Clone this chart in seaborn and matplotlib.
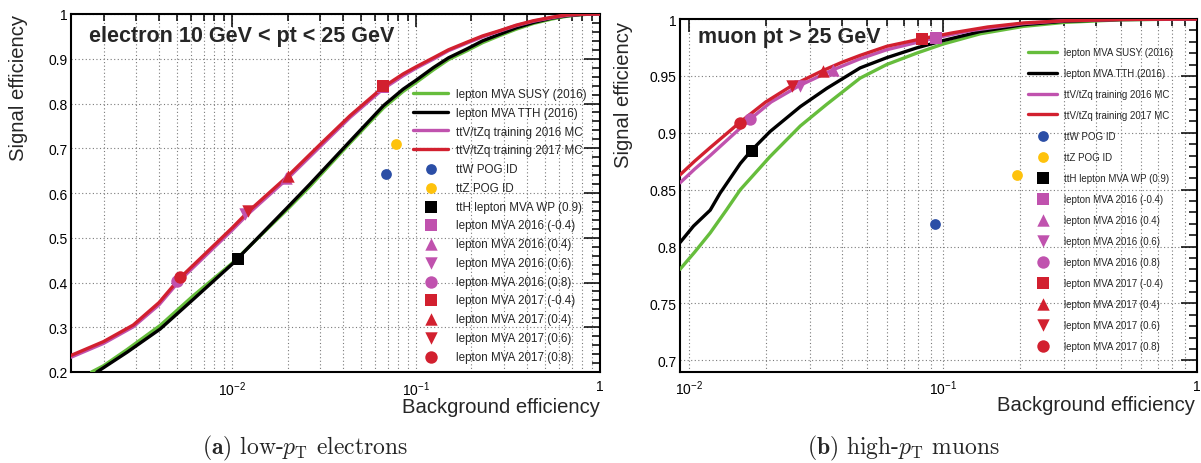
import numpy as np
import pandas as pd
import matplotlib
matplotlib.use("Agg")
import matplotlib.pyplot as plt
import seaborn as sns
from matplotlib.ticker import FixedLocator, FixedFormatter, NullFormatter

# ---------------- data: electrons (10 < pt < 25 GeV) ----------------
el_susy_x = [0.00172, 0.0020, 0.00268, 0.00406, 0.00617, 0.0100, 0.0198, 0.0265, 0.0438, 0.0664, 0.085, 0.10, 0.124, 0.15, 0.189, 0.23, 0.286, 0.35, 0.435, 0.55, 0.66, 0.8, 1.0]
el_susy_y = [0.200, 0.214, 0.250, 0.304, 0.371, 0.443, 0.562, 0.615, 0.712, 0.790, 0.827, 0.847, 0.875, 0.898, 0.918, 0.936, 0.952, 0.966, 0.979, 0.989, 0.995, 0.999, 1.0]
el_tth_x = [0.00184, 0.00268, 0.00406, 0.00617, 0.0100, 0.0198, 0.0265, 0.0438, 0.0664, 0.085, 0.10, 0.124, 0.15, 0.189, 0.23, 0.286, 0.35, 0.435, 0.55, 0.66, 0.8, 1.0]
el_tth_y = [0.200, 0.244, 0.296, 0.363, 0.441, 0.566, 0.620, 0.716, 0.795, 0.832, 0.852, 0.880, 0.902, 0.922, 0.940, 0.955, 0.969, 0.981, 0.991, 0.996, 0.999, 1.0]
el_2016_x = [0.00133, 0.0020, 0.0029, 0.0040, 0.0052, 0.0100, 0.0122, 0.0201, 0.0300, 0.0438, 0.055, 0.0664, 0.085, 0.10, 0.124, 0.15, 0.189, 0.23, 0.286, 0.35, 0.435, 0.55, 0.66, 0.8, 1.0]
el_2016_y = [0.233, 0.264, 0.301, 0.350, 0.405, 0.517, 0.553, 0.633, 0.703, 0.769, 0.804, 0.833, 0.862, 0.879, 0.899, 0.918, 0.935, 0.949, 0.962, 0.974, 0.984, 0.992, 0.997, 0.9995, 1.0]
el_2017_x = [0.00133, 0.0020, 0.0029, 0.0040, 0.0052, 0.0100, 0.0122, 0.0201, 0.0300, 0.0438, 0.055, 0.0664, 0.085, 0.10, 0.124, 0.15, 0.189, 0.23, 0.286, 0.35, 0.435, 0.55, 0.66, 0.8, 1.0]
el_2017_y = [0.237, 0.268, 0.305, 0.355, 0.410, 0.522, 0.558, 0.638, 0.708, 0.773, 0.808, 0.837, 0.866, 0.882, 0.902, 0.920, 0.937, 0.951, 0.963, 0.975, 0.985, 0.993, 0.998, 0.9995, 1.0]

el_ttw_pog = (0.0687, 0.643)
el_ttz_pog = (0.0778, 0.709)
el_tth_wp = (0.0108, 0.4525)
el_mva2016_x = [0.0660, 0.0197, 0.0118, 0.0050]   # WP -0.4, 0.4, 0.6, 0.8
el_mva2016_y = [0.836, 0.633, 0.553, 0.404]
el_mva2017_x = [0.0664, 0.0201, 0.0122, 0.0052]
el_mva2017_y = [0.840, 0.638, 0.560, 0.412]

# ---------------- data: muons (pt > 25 GeV) ----------------
mu_susy_x = [0.0092, 0.0105, 0.0121, 0.0140, 0.0159, 0.0208, 0.0274, 0.0348, 0.0471, 0.060, 0.0787, 0.10, 0.14, 0.207, 0.30, 0.5, 1.0]
mu_susy_y = [0.780, 0.795, 0.812, 0.832, 0.850, 0.879, 0.906, 0.925, 0.948, 0.960, 0.970, 0.978, 0.987, 0.9935, 0.997, 0.9993, 1.0]
mu_tth_x = [0.0092, 0.0104, 0.0121, 0.01324, 0.0159, 0.0175, 0.0208, 0.0274, 0.0348, 0.0471, 0.060, 0.0787, 0.10, 0.14, 0.207, 0.30, 0.5, 1.0]
mu_tth_y = [0.8035, 0.818, 0.832, 0.847, 0.873, 0.884, 0.901, 0.923, 0.939, 0.957, 0.966, 0.9746, 0.981, 0.989, 0.995, 0.998, 0.9995, 1.0]
mu_2016_x = [0.0092, 0.0105, 0.0121, 0.0145, 0.0174, 0.021, 0.0272, 0.0370, 0.0471, 0.060, 0.0938, 0.13, 0.207, 0.30, 0.5, 1.0]
mu_2016_y = [0.856, 0.868, 0.880, 0.896, 0.912, 0.927, 0.9415, 0.9555, 0.965, 0.973, 0.9835, 0.990, 0.996, 0.9985, 0.9996, 1.0]
mu_2017_x = [0.0092, 0.0105, 0.0121, 0.0140, 0.0158, 0.0200, 0.0254, 0.0336, 0.040, 0.0471, 0.060, 0.0826, 0.11, 0.15, 0.207, 0.30, 0.5, 1.0]
mu_2017_y = [0.863, 0.875, 0.887, 0.899, 0.909, 0.927, 0.9415, 0.9547, 0.962, 0.968, 0.976, 0.9827, 0.988, 0.993, 0.9965, 0.9985, 0.9996, 1.0]

mu_ttw_pog = (0.093, 0.8196)
mu_ttz_pog = (0.195, 0.8628)
mu_tth_wp = (0.0176, 0.8839)
mu_mva2016_x = [0.0938, 0.0370, 0.0272, 0.0174]
mu_mva2016_y = [0.9835, 0.9555, 0.9415, 0.912]
mu_mva2017_x = [0.0826, 0.0336, 0.0254, 0.0158]
mu_mva2017_y = [0.9827, 0.9547, 0.9415, 0.909]

# ---------------- labels ----------------
curve_labels = ["lepton MVA SUSY (2016)", "lepton MVA TTH (2016)",
                "ttV/tZq training 2016 MC", "ttV/tZq training 2017 MC"]
point_labels = ["ttW POG ID", "ttZ POG ID", "ttH lepton MVA WP (0.9)"]
mva2016_labels = ["lepton MVA 2016 (-0.4)", "lepton MVA 2016 (0.4)",
                  "lepton MVA 2016 (0.6)", "lepton MVA 2016 (0.8)"]
mva2017_labels = ["lepton MVA 2017 (-0.4)", "lepton MVA 2017 (0.4)",
                  "lepton MVA 2017 (0.6)", "lepton MVA 2017 (0.8)"]
el_title = "electron 10 GeV < pt < 25 GeV"
mu_title = "muon pt > 25 GeV"
x_label = "Background efficiency"
y_label = "Signal efficiency"
el_yticks = [0.2, 0.3, 0.4, 0.5, 0.6, 0.7, 0.8, 0.9, 1.0]
el_yticklabels = ["0.2", "0.3", "0.4", "0.5", "0.6", "0.7", "0.8", "0.9", "1"]
mu_yticks = [0.7, 0.75, 0.8, 0.85, 0.9, 0.95, 1.0]
mu_yticklabels = ["0.7", "0.75", "0.8", "0.85", "0.9", "0.95", "1"]
xticks = [0.01, 0.1, 1.0]
xticklabels = [r"$10^{-2}$", r"$10^{-1}$", "1"]
caption_a = r"$\mathbf{(a)}$ low-$p_{\mathrm{T}}$ electrons"
caption_b = r"$\mathbf{(b)}$ high-$p_{\mathrm{T}}$ muons"

# ---------------- style ----------------
sns.set_style("white")
plt.rcParams["font.family"] = ["Liberation Sans", "DejaVu Sans"]
plt.rcParams["mathtext.fontset"] = "custom"
plt.rcParams["mathtext.rm"] = "Liberation Sans"
plt.rcParams["mathtext.it"] = "Liberation Sans:italic"
plt.rcParams["mathtext.bf"] = "Liberation Sans:bold"

C_GREEN = "#66bd3c"
C_BLACK = "#000000"
C_MAG = "#c052ae"
C_RED = "#d2202f"
C_BLUE = "#2b4ea6"
C_YEL = "#fec20c"

W, H = 1201, 464
fig = plt.figure(figsize=(W / 100, H / 100), dpi=100)
ax1 = fig.add_axes([71 / W, 91 / H, 529 / W, 358 / H])
ax2 = fig.add_axes([680 / W, 91.3 / H, 517 / W, 352.7 / H])


def draw_panel(ax, curves, pog_ttw, pog_ttz, tth_wp, m16x, m16y, m17x, m17y,
               xlim, ylim, yticks, yticklabels, ymin_step, title, title_xy,
               leg_anchor, leg_fs, leg_spacing, ms_main, ms_pog):
    ax.set_xscale("log")
    handles = []
    for (cx, cy), col, lab in zip(curves, [C_GREEN, C_BLACK, C_MAG, C_RED], curve_labels):
        df = pd.DataFrame({"x": cx, "y": cy})
        sns.lineplot(data=df, x="x", y="y", ax=ax, color=col, lw=2.4,
                     estimator=None, sort=False, zorder=3)
        ax.lines[-1].set_solid_joinstyle("round")
        handles.append(ax.lines[-1])

    def pt(x, y, marker, col, s):
        sns.scatterplot(x=list(np.atleast_1d(x)), y=list(np.atleast_1d(y)), ax=ax,
                        marker=marker, color=col, s=s, linewidth=0, zorder=5)
        return ax.collections[-1]

    handles.append(pt(pog_ttw[0], pog_ttw[1], "o", C_BLUE, ms_pog))
    handles.append(pt(pog_ttz[0], pog_ttz[1], "o", C_YEL, ms_pog))
    handles.append(pt(tth_wp[0], tth_wp[1], "s", C_BLACK, ms_main))
    markers = ["s", "^", "v", "o"]
    for i, mk in enumerate(markers):
        handles.append(pt(m16x[i], m16y[i], mk, C_MAG, ms_main))
    for i, mk in enumerate(markers):
        handles.append(pt(m17x[i], m17y[i], mk, C_RED, ms_main))

    labels = curve_labels + point_labels + mva2016_labels + mva2017_labels
    leg = ax.legend(handles, labels, loc="upper left", bbox_to_anchor=leg_anchor,
                    bbox_transform=fig.transFigure, frameon=False, fontsize=leg_fs,
                    handlelength=3.0, handletextpad=0.65, labelspacing=leg_spacing,
                    borderpad=0, borderaxespad=0, scatterpoints=1)
    leg.set_zorder(6)

    ax.set_xlim(*xlim)
    ax.set_ylim(*ylim)
    ax.xaxis.set_major_locator(FixedLocator(xticks))
    ax.xaxis.set_major_formatter(FixedFormatter(xticklabels))
    minors = [m * 10.0 ** e for e in (-3, -2, -1) for m in range(2, 10)]
    ax.xaxis.set_minor_locator(FixedLocator([v for v in minors if xlim[0] < v < xlim[1]]))
    ax.xaxis.set_minor_formatter(NullFormatter())
    ax.yaxis.set_major_locator(FixedLocator(yticks))
    ax.yaxis.set_major_formatter(FixedFormatter(yticklabels))
    ymins = np.arange(ylim[0], ylim[1] + 1e-9, ymin_step)
    ax.yaxis.set_minor_locator(FixedLocator(ymins))

    ax.tick_params(axis="both", which="both", direction="in", top=True, right=True,
                   width=1.1, colors="black", labelsize=10)
    ax.tick_params(axis="x", which="major", length=9.5, pad=5)
    ax.tick_params(axis="x", which="minor", length=5)
    ax.tick_params(axis="y", which="major", length=11.5, pad=2.5)
    ax.tick_params(axis="y", which="minor", length=5.8)

    ax.grid(True, which="major", axis="y", color="#7a7a7a", ls=(0, (1, 2.2)), lw=0.8, zorder=0)
    ax.grid(True, which="both", axis="x", color="#7a7a7a", ls=(0, (1, 2.2)), lw=0.8, zorder=0)
    for sp in ax.spines.values():
        sp.set_linewidth(1.5)
        sp.set_color("black")
        sp.set_visible(True)

    ax.set_xlabel(x_label, fontsize=14.6, loc="right")
    ax.set_ylabel(y_label, fontsize=14.6, loc="top")
    ax.text(title_xy[0], title_xy[1], title, transform=ax.transAxes, fontsize=15.5,
            fontweight="bold", va="baseline", ha="left", zorder=7)


draw_panel(ax1,
           [(el_susy_x, el_susy_y), (el_tth_x, el_tth_y), (el_2016_x, el_2016_y), (el_2017_x, el_2017_y)],
           el_ttw_pog, el_ttz_pog, el_tth_wp, el_mva2016_x, el_mva2016_y, el_mva2017_x, el_mva2017_y,
           (0.00133, 1.0), (0.2, 1.0), el_yticks, el_yticklabels, 0.02, el_title,
           (0.034, 0.9237), (413 / W, 1 - 89 / H), 8.4, 0.58, 80, 60)
draw_panel(ax2,
           [(mu_susy_x, mu_susy_y), (mu_tth_x, mu_tth_y), (mu_2016_x, mu_2016_y), (mu_2017_x, mu_2017_y)],
           mu_ttw_pog, mu_ttz_pog, mu_tth_wp, mu_mva2016_x, mu_mva2016_y, mu_mva2017_x, mu_mva2017_y,
           (0.0092, 1.0), (0.69, 1.0), mu_yticks, mu_yticklabels, 0.01, mu_title,
           (0.0348, 0.9357), (1028 / W, 1 - 48 / H), 7.05, 1.12, 80, 60)

ax1.yaxis.set_label_coords(-0.081, 1.0)
ax2.yaxis.set_label_coords(-0.091, 0.995)
ax1.xaxis.set_label_coords(1.0, -0.07)
ax2.xaxis.set_label_coords(0.996, -0.065)

fig.text(305 / W, 1 - 454 / H, caption_a, fontsize=17, family="cmr10",
         math_fontfamily="cm", ha="center", va="baseline")
fig.text(904 / W, 1 - 454 / H, caption_b, fontsize=17, family="cmr10",
         math_fontfamily="cm", ha="center", va="baseline")

fig.savefig("out.png", dpi=100, facecolor="white")
